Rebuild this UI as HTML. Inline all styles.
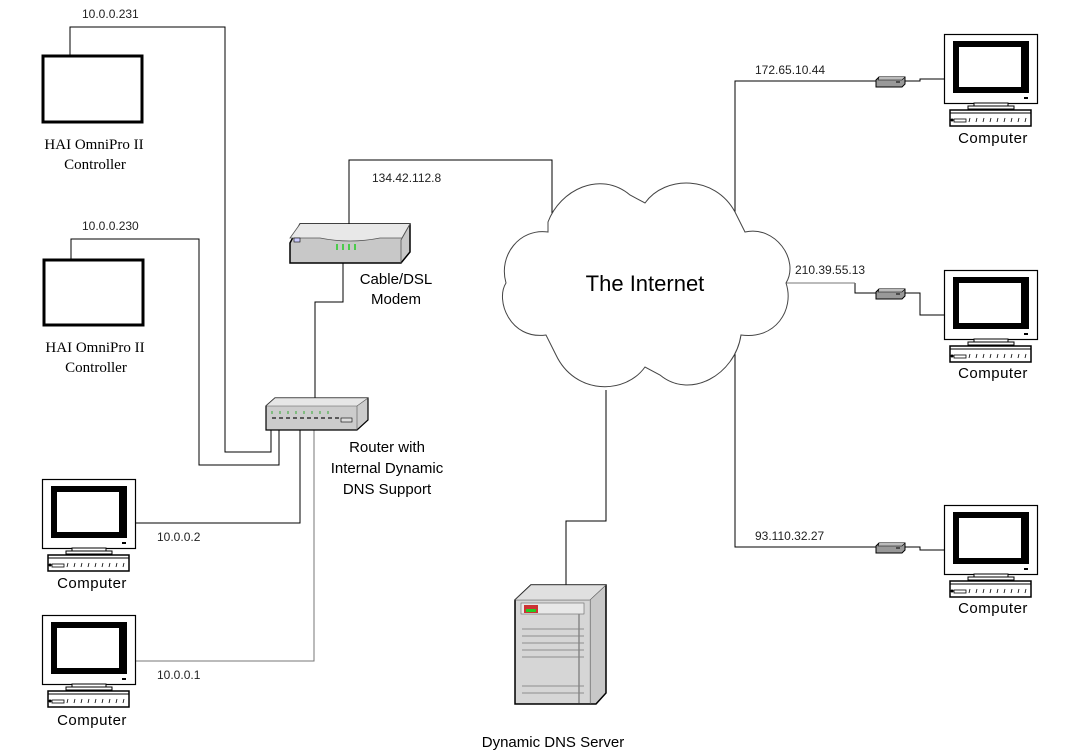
<!DOCTYPE html>
<html><head><meta charset="utf-8"><style>
html,body{margin:0;padding:0;background:#fff;}
svg{display:block;}
text{font-family:"Liberation Sans",Arial,sans-serif;fill:#000;}
.ip{font-size:12px;fill:#222;}
.lbl{font-size:15px;}
.ser{font-family:"Liberation Serif",serif;font-size:15px;}
</style></head><body>
<svg width="1079" height="756" viewBox="0 0 1079 756" xmlns="http://www.w3.org/2000/svg">
<defs>
<g id="pc">
 <rect x="0.5" y="0.5" width="93" height="69" fill="#fff" stroke="#000" stroke-width="1.2"/>
 <rect x="9" y="7" width="76" height="52" fill="#000"/>
 <rect x="15" y="13" width="62" height="40" fill="#fff"/>
 <rect x="80" y="63" width="4" height="2" fill="#000"/>
 <rect x="30" y="69" width="34" height="3" fill="#fff" stroke="#000" stroke-width="1"/>
 <rect x="24" y="72" width="46" height="3" fill="#fff" stroke="#000" stroke-width="1"/>
 <rect x="6" y="76" width="81" height="16" fill="#fff" stroke="#000" stroke-width="1.5"/>
 <line x1="6" y1="79" x2="87" y2="79" stroke="#000"/>
 <rect x="10" y="85" width="12" height="3" fill="#fff" stroke="#000" stroke-width="0.8"/>
 <circle cx="8" cy="86" r="1.5" fill="#000"/>
 <path d="M26 84l-1 4M33 84l-1 4M40 84l-1 4M47 84l-1 4M54 84l-1 4M61 84l-1 4M68 84l-1 4M75 84l-1 4M82 84l-1 4" stroke="#000" stroke-width="0.8"/>
</g>
<g id="dev">
 <path d="M0 3 L3 0 L29 0 L29 7 L26 10 L0 10 Z" fill="#999" stroke="#000" stroke-width="1"/>
 <path d="M3 0 L2 3 L26 3 L29 0" fill="#bbb" stroke="#000" stroke-width="0.6"/>
 <line x1="20" y1="5" x2="24" y2="5" stroke="#000"/>
</g>
</defs>

<!-- wires -->
<g fill="none" stroke="#000" stroke-width="1">
 <polyline points="70,55 70,27 225,27 225,452 271,452 271,428"/>
 <polyline points="71,259 71,239 199,239 199,465 279,465 279,428"/>
 <polyline points="349,225 349,160 552,160 552,215"/>
 <polyline points="343,263 343,302 315,302 315,398"/>
 <polyline points="300,428 300,523 135,523"/>
 <polyline points="606,390 606,521 566,521 566,588"/>
 <polyline points="735,215 735,81 876,81"/>
 <polyline points="905,81 920,81 920,79 944,79"/>
 <polyline points="855,283 855,293 876,293"/>
 <polyline points="905,293 920,293 920,315 944,315"/>
 <polyline points="735,350 735,547 876,547"/>
 <polyline points="905,547 920,547 920,550 944,550"/>
</g>
<g fill="none" stroke="#777" stroke-width="1">
 <polyline points="314,428 314,661 135,661"/>
 <polyline points="785,283 855,283"/>
</g>

<!-- controllers -->
<rect x="43" y="56" width="99" height="66" fill="#fff" stroke="#000" stroke-width="3"/>
<rect x="44" y="260" width="99" height="65" fill="#fff" stroke="#000" stroke-width="3"/>
<text class="ip" x="82" y="18">10.0.0.231</text>
<text class="ip" x="82" y="230">10.0.0.230</text>
<text class="ser" x="94" y="149" text-anchor="middle">HAI OmniPro II</text>
<text class="ser" x="95" y="169" text-anchor="middle">Controller</text>
<text class="ser" x="95" y="352" text-anchor="middle">HAI OmniPro II</text>
<text class="ser" x="96" y="372" text-anchor="middle">Controller</text>

<!-- modem -->
<path d="M290 243 L300 224 L410 224 L410 252 L401 263 L290 263 Z" fill="#c8c8c8" stroke="#000" stroke-width="1.5"/>
<path d="M300 224 L290 238 L320 238 Q350 244 380 238 L402 238 L410 224" fill="#e8e8e8" stroke="#555" stroke-width="0.8"/>
<path d="M401 263 L401 240 L410 224" fill="none" stroke="#555" stroke-width="0.8"/>
<rect x="294" y="238" width="6" height="4" fill="#ccf" stroke="#000" stroke-width="0.6"/>
<path d="M337 244v6M343 244v6M349 244v6M355 244v6" stroke="#2c2" stroke-width="1.5"/>
<text class="ip" x="372" y="182">134.42.112.8</text>
<text class="lbl" x="396" y="284" text-anchor="middle">Cable/DSL</text>
<text class="lbl" x="396" y="304" text-anchor="middle">Modem</text>

<!-- router -->
<path d="M266 406 L275 398 L368 398 L368 420 L357 430 L266 430 Z" fill="#ccc" stroke="#000" stroke-width="1.2"/>
<path d="M266 406 L275 398 L368 398 L357 406 Z" fill="#e6e6e6" stroke="#555" stroke-width="0.6"/>
<path d="M357 406 L357 430" stroke="#555" stroke-width="0.6"/>
<g stroke="#333" stroke-width="1.5">
 <path d="M272 418h4M279 418h4M286 418h4M293 418h4M300 418h4M307 418h4M314 418h4M321 418h4M328 418h4M335 418h4"/>
</g>
<path d="M272 411v3M280 411v3M288 411v3M296 411v3M304 411v3M312 411v3M320 411v3M328 411v3" stroke="#3a3" stroke-width="1"/>
<rect x="341" y="418" width="11" height="4" fill="#ddd" stroke="#000" stroke-width="0.6"/>
<text class="lbl" x="387" y="452" text-anchor="middle">Router with</text>
<text class="lbl" x="387" y="473" text-anchor="middle">Internal Dynamic</text>
<text class="lbl" x="387" y="494" text-anchor="middle">DNS Support</text>

<!-- left computers -->
<use href="#pc" x="42" y="479"/>
<text class="lbl" x="92" y="588" text-anchor="middle" letter-spacing="0.5">Computer</text>
<text class="ip" x="157" y="541">10.0.0.2</text>
<use href="#pc" x="42" y="615"/>
<text class="lbl" x="92" y="725" text-anchor="middle" letter-spacing="0.5">Computer</text>
<text class="ip" x="157" y="679">10.0.0.1</text>

<!-- cloud -->
<path d="M548 222 C560 190 600 170 630 195 L645 203 C665 175 715 175 735 212 L745 232 C775 225 800 260 786 283 C795 310 775 340 741 335 C735 375 690 400 660 375 L645 367 C625 395 575 395 556 355 L546 335 C510 340 495 300 506 283 C498 255 520 228 548 232 Z" fill="#fff" stroke="#444" stroke-width="1"/>
<text x="645" y="291" text-anchor="middle" style="font-size:22px">The Internet</text>

<!-- server -->
<path d="M515 600 L531 585 L606 585 L606 693 L596 704 L515 704 Z" fill="#c8c8c8" stroke="#000" stroke-width="1.5"/>
<path d="M515 600 L531 585 L606 585 L590 600 Z" fill="#e0e0e0" stroke="#555" stroke-width="0.6"/>
<rect x="590" y="600" width="0.5" height="104" fill="#555"/>
<rect x="516" y="601" width="73" height="102" fill="#d6d6d6"/>
<rect x="521" y="603" width="63" height="11" fill="#e8e8e8" stroke="#666" stroke-width="0.6"/>
<rect x="524" y="605" width="14" height="8" fill="#c33"/>
<rect x="526" y="609" width="10" height="3" fill="#2c2"/>
<path d="M522 629h62M522 636h62M522 643h62M522 650h62M522 657h62M522 686h62M522 693h62" stroke="#777" stroke-width="0.8"/>
<line x1="579" y1="614" x2="579" y2="703" stroke="#888" stroke-width="1.5"/>
<text class="lbl" x="553" y="747" text-anchor="middle">Dynamic DNS Server</text>

<!-- right side -->
<use href="#dev" x="876" y="77"/>
<use href="#dev" x="876" y="289"/>
<use href="#dev" x="876" y="543"/>
<use href="#pc" x="944" y="34"/>
<use href="#pc" x="944" y="270"/>
<use href="#pc" x="944" y="505"/>
<text class="lbl" x="993" y="143" text-anchor="middle" letter-spacing="0.5">Computer</text>
<text class="lbl" x="993" y="378" text-anchor="middle" letter-spacing="0.5">Computer</text>
<text class="lbl" x="993" y="613" text-anchor="middle" letter-spacing="0.5">Computer</text>
<text class="ip" x="755" y="74">172.65.10.44</text>
<text class="ip" x="795" y="274">210.39.55.13</text>
<text class="ip" x="755" y="540">93.110.32.27</text>
</svg>
</body></html>
